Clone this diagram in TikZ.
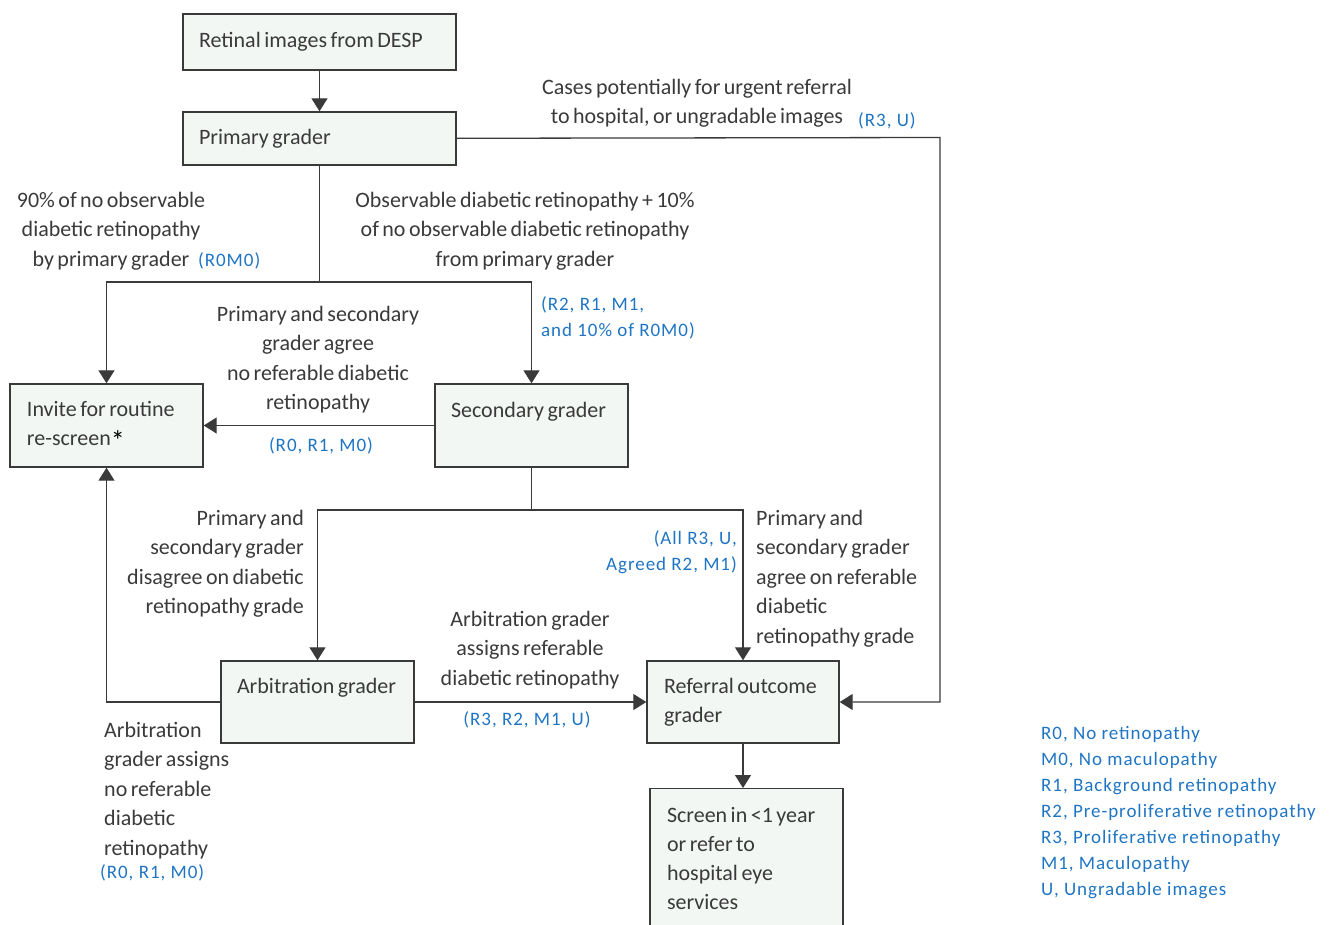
\documentclass[tikz,border=0pt]{standalone}
\usepackage{fontspec}
\setmainfont[WordSpace=0.7]{Carlito}
\newfontfamily\gradefont[LetterSpace=5]{Carlito}
\usetikzlibrary{arrows.meta}
\definecolor{BoxFill}{RGB}{242,247,244}
\definecolor{DarkText}{RGB}{58,58,58}
\definecolor{GradeBlue}{RGB}{31,117,196}

\begin{document}
\begin{tikzpicture}[x=1pt,y=-1pt,
  box/.style={draw=DarkText,line width=1.4pt,fill=BoxFill,align=flush left,text=DarkText,
    font=\fontsize{22}{29}\selectfont,inner ysep=0pt},
  note/.style={text=DarkText,inner sep=0pt,font=\fontsize{22}{29.5}\selectfont},
  grade/.style={text=GradeBlue,inner sep=0pt,font=\gradefont\fontsize{19}{26}\selectfont},
  line/.style={draw=DarkText,line width=1.3pt},
  arr/.style={line,-{Triangle[length=13pt,width=16pt]}}]
\useasboundingbox (0,0) rectangle (1338,924);
\clip (0,0) rectangle (1338,924);

\node[box,minimum width=273pt,minimum height=56pt,text width=241pt,inner xsep=16pt] (retinal) at (319.5,42) {Retinal images from DESP};
\node[box,minimum width=273pt,minimum height=53pt,text width=241pt,inner xsep=16pt] (primary) at (319.5,138.5) {Primary grader};
\node[box,minimum width=193pt,minimum height=83pt,text width=159pt,inner xsep=17pt] (invite) at (106.5,425.5) {Invite for routine\\re-screen\textcolor{black}{\raisebox{-5pt}{\fontsize{28}{28}\selectfont *}}};
\node[box,minimum width=193pt,minimum height=83pt,text width=161pt,inner xsep=16pt,text height=15pt,text depth=32pt] (secondary) at (531.5,425.5) {Secondary grader};
\node[box,minimum width=193pt,minimum height=82pt,text width=167pt,inner xsep=13pt,text height=15pt,text depth=33pt] (arbitration) at (317.5,702) {\hspace*{3pt}Arbitration grader};
\node[box,minimum width=192pt,minimum height=82pt,text width=158pt,inner xsep=17pt] (referral) at (743,702) {Referral outcome\\grader};
\node[box,anchor=north,minimum width=193pt,minimum height=140pt,text width=159pt,inner xsep=17pt] (screen) at (746.5,788) {Screen in <1 year\\or refer to\\hospital eye\\services};

\coordinate (urgent) at (940,137.5);
\coordinate (split1) at (319.5,282);
\coordinate (split2) at (531.5,510);

\draw[arr] (retinal) -- (primary);
\draw[arr] (primary) -- (urgent) |- (referral);
\draw[line] (primary) -- (split1);
\draw[arr] (split1) -| (invite);
\draw[arr] (split1) -| (secondary);
\draw[arr] (secondary) -- (invite);
\draw[line] (secondary) -- (split2);
\draw[arr] (split2) -| (arbitration);
\draw[arr] (split2) -| (referral);
\draw[arr] (arbitration) -| (invite);
\draw[arr] (arbitration) -- (referral);
\draw[arr] (referral) -- (referral |- screen.north);

\node[note,anchor=north,align=center] (urgentnote) at (697,79) {Cases potentially for urgent referral\\to hospital, or ungradable images};
\node[grade,anchor=north west] (urgentgrade) at (858,112) {(R3, U)};
\node[note,anchor=north,align=center] (routinenote) at (111,192) {90\% of no observable\\diabetic retinopathy\\by primary grader};
\node[grade,anchor=north west] (routinegrade) at (198,252) {(R0M0)};
\node[note,anchor=north,align=center] (observnote) at (525,192) {Observable diabetic retinopathy + 10\%\\of no observable diabetic retinopathy\\from primary grader};
\node[grade,anchor=north west,align=left] (observgrade) at (541,296) {(R2, R1, M1,\\and 10\% of R0M0)};
\node[note,anchor=north,align=center] (agreenote) at (318,306) {Primary and secondary\\grader agree\\no referable diabetic\\retinopathy};
\node[grade,anchor=north] (agreegrade) at (321,437) {(R0, R1, M0)};
\node[note,anchor=north east,align=right] (disagreenote) at (304,510) {Primary and\\secondary grader\\disagree on diabetic\\retinopathy grade};
\node[grade,anchor=north east,align=right] (refergrade) at (737,530) {(All R3, U,\\Agreed R2, M1)};
\node[note,anchor=north west,align=left] (refernote) at (756,510) {Primary and\\secondary grader\\agree on referable\\diabetic\\retinopathy grade};
\node[note,anchor=north,align=center] (arbyesnote) at (530,611) {Arbitration grader\\assigns referable\\diabetic retinopathy};
\node[grade,anchor=north] (arbyesgrade) at (527,711) {(R3, R2, M1, U)};
\node[note,anchor=north west,align=left] (arbnonote) at (104,722) {Arbitration\\grader assigns\\no referable\\diabetic\\retinopathy};
\node[grade,anchor=north west] (arbnograde) at (100,864) {(R0, R1, M0)};

\node[grade,anchor=north west,align=left] (legend) at (1041,726) {R0, No retinopathy\\M0, No maculopathy\\R1, Background retinopathy\\R2, Pre-proliferative retinopathy\\R3, Proliferative retinopathy\\M1, Maculopathy\\U, Ungradable images};

\end{tikzpicture}
\end{document}
